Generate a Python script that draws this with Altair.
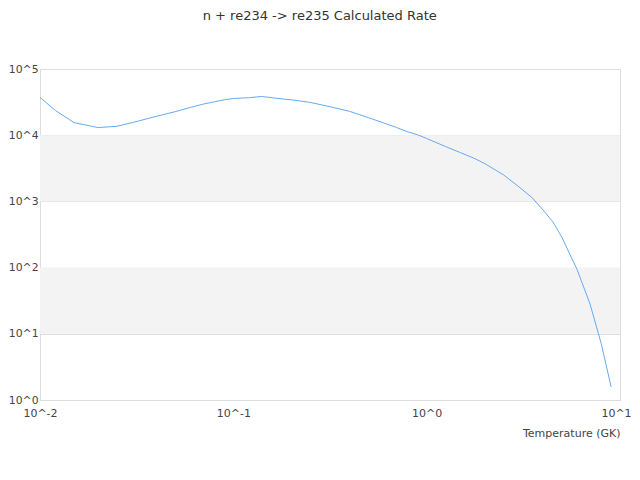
import altair as alt
import pandas as pd

temps = [0.01, 0.012, 0.015, 0.02, 0.025, 0.03, 0.04, 0.05, 0.06, 0.07, 0.08, 0.09,
         0.1, 0.12, 0.14, 0.16, 0.18, 0.2, 0.25, 0.3, 0.35, 0.4, 0.45, 0.5, 0.6, 0.7,
         0.8, 0.9, 1.0, 1.25, 1.5, 1.75, 2.0, 2.5, 3.0, 3.5, 4.0, 4.5, 5.0, 6.0, 7.0,
         8.0, 9.0]
log_rates = [4.57, 4.375, 4.19, 4.115, 4.135, 4.19, 4.285, 4.355, 4.42, 4.47, 4.505, 4.535,
             4.555, 4.566, 4.585, 4.565, 4.547, 4.535, 4.495, 4.445, 4.40, 4.36, 4.31, 4.265,
             4.185, 4.115, 4.05, 4.005, 3.95, 3.83, 3.735, 3.655, 3.57, 3.40, 3.22, 3.06,
             2.87, 2.69, 2.46, 1.97, 1.45, 0.85, 0.196]
rates = [10 ** v for v in log_rates]

band_lo = [10, 1000]
band_hi = [100, 10000]
x_ticks = [0.01, 0.1, 1, 10]
y_ticks = [1, 10, 100, 1000, 10000, 100000]

df = pd.DataFrame({"T": temps, "rate": rates})
bands = pd.DataFrame({"lo": band_lo, "hi": band_hi, "x0": [0.01, 0.01], "x1": [10, 10]})

FONT = "DejaVu Sans"
LABEL_EXPR = "'10^' + toString(round(log(datum.value)/LN10))"

xscale = alt.Scale(type="log", domain=[0.01, 10], nice=False)
yscale = alt.Scale(type="log", domain=[1, 100000], nice=False)

band_layer = alt.Chart(bands).mark_rect(color="#f3f3f3").encode(
    x=alt.X("x0:Q", scale=xscale),
    x2="x1:Q",
    y=alt.Y("lo:Q", scale=yscale),
    y2="hi:Q",
)

line = alt.Chart(df).mark_line(color="#66aaf2", strokeWidth=1).encode(
    x=alt.X(
        "T:Q",
        scale=xscale,
        title="Temperature (GK)",
        axis=alt.Axis(
            values=x_ticks,
            labelExpr=LABEL_EXPR,
            grid=False,
            ticks=False,
            domain=False,
            labelFont=FONT,
            labelFontSize=11,
            labelColor="#444444",
            labelPadding=7,
            labelFlush=False,
            labelOffset={"condition": {"test": "datum.value >= 10", "value": -4}, "value": 0},
            titleFont=FONT,
            titleFontSize=11,
            titleFontWeight="normal",
            titleColor="#444444",
            titleAnchor="end",
            titleAlign="right",
            titlePadding=9,
        ),
    ),
    y=alt.Y(
        "rate:Q",
        scale=yscale,
        title=None,
        axis=alt.Axis(
            values=y_ticks,
            labelExpr=LABEL_EXPR,
            grid=True,
            gridColor="#dddddd",
            gridWidth=1,
            ticks=False,
            domain=False,
            labelFont=FONT,
            labelFontSize=10.8,
            labelColor="#444444",
            labelPadding=2,
            labelFlush=False,
        ),
    ),
)

chart = alt.layer(band_layer, line).properties(
    width=580,
    height=331,
    autosize=alt.AutoSizeParams(type="none"),
    padding={"left": 32, "top": 61, "right": 12, "bottom": 60},
    title=alt.TitleParams(
        "n + re234 -> re235 Calculated Rate",
        font=FONT,
        fontSize=13,
        fontWeight="normal",
        color="#333333",
        anchor="middle",
        frame="bounds",
        offset=40,
    ),
).configure_view(stroke="#dddddd", strokeWidth=1).configure(background="white")

chart.save("out.html", embed_options={"renderer": "svg", "actions": False})
